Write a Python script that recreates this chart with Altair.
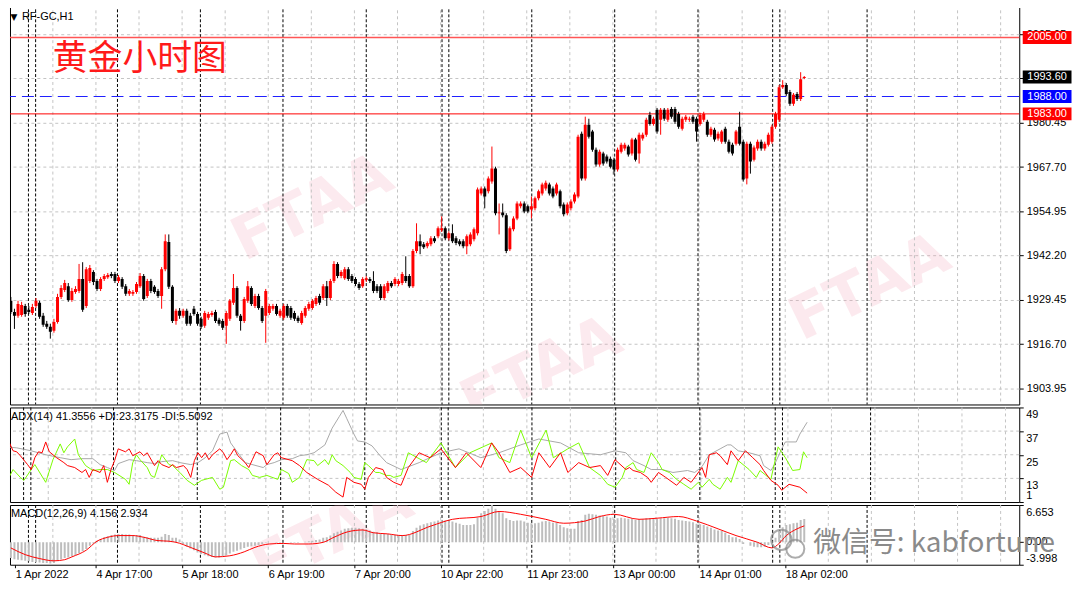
import altair as alt
import pandas as pd

FONT = "Liberation Sans"
W = 1014
H_MAIN, H_ADX, H_MACD = 402, 95, 60

# ---------------- price data (H1 candles) ----------------
opens = [1929.2, 1926.0, 1924.9, 1925.1, 1927.7, 1926.6, 1925.7, 1927.7, 1928.6, 1924.9,
         1922.6, 1921.7, 1920.6, 1923.1, 1930.3, 1932.3, 1933.4, 1929.4, 1931.7, 1932.0,
         1935.5, 1927.7, 1934.9, 1937.5, 1934.9, 1932.6, 1935.5, 1936.0, 1936.9, 1936.9,
         1934.9, 1935.5, 1933.4, 1931.2, 1931.2, 1931.7, 1933.4, 1936.3, 1930.6, 1934.9,
         1933.2, 1932.0, 1930.6, 1938.3, 1946.1, 1933.2, 1923.4, 1926.3, 1924.9, 1926.3,
         1924.9, 1926.9, 1925.4, 1924.0, 1922.0, 1924.3, 1925.1, 1926.0, 1923.7, 1923.4,
         1922.0, 1924.0, 1928.6, 1932.9, 1924.9, 1923.4, 1929.2, 1932.9, 1927.7, 1930.6,
         1927.1, 1924.9, 1925.7, 1926.9, 1927.7, 1924.9, 1924.3, 1927.7, 1927.1, 1925.7,
         1924.3, 1922.8, 1924.9, 1926.9, 1927.1, 1928.3, 1930.6, 1930.0, 1933.4, 1930.0,
         1934.9, 1939.8, 1936.3, 1935.7, 1938.3, 1936.3, 1935.5, 1934.0, 1933.4, 1935.2,
         1935.5, 1934.9, 1933.4, 1933.4, 1930.0, 1932.0, 1934.3, 1934.0, 1934.0, 1934.3,
         1936.3, 1936.3, 1933.4, 1943.5, 1946.3, 1945.5, 1944.9, 1945.5, 1947.2, 1947.8,
         1949.5, 1950.1, 1947.2, 1948.6, 1947.2, 1946.3, 1946.3, 1944.9, 1945.5, 1946.9,
         1948.6, 1960.1, 1961.5, 1960.7, 1963.5, 1967.3, 1954.4, 1954.6, 1953.8, 1944.0,
         1949.8, 1952.9, 1956.4, 1957.2, 1956.4, 1955.5, 1955.8, 1958.7, 1960.1, 1961.5,
         1962.7, 1961.5, 1960.1, 1960.7, 1956.9, 1954.4, 1955.8, 1957.8, 1959.2, 1977.3,
         1964.4, 1979.9, 1977.9, 1972.7, 1968.4, 1971.6, 1970.7, 1970.1, 1969.8, 1967.0,
         1972.1, 1973.0, 1973.6, 1971.6, 1975.6, 1971.6, 1975.9, 1977.0, 1982.7, 1980.1,
         1984.2, 1981.3, 1984.2, 1981.3, 1984.4, 1984.4, 1983.0, 1978.7, 1981.3, 1981.3,
         1982.2, 1981.6, 1980.1, 1981.3, 1980.7, 1977.0, 1978.4, 1975.9, 1975.0, 1978.7,
         1975.0, 1974.1, 1974.4, 1979.3, 1975.0, 1964.4, 1974.4, 1969.8, 1973.0, 1975.0,
         1973.0, 1974.1, 1975.0, 1979.3, 1981.3, 1990.7, 1991.3, 1989.3, 1985.9, 1988.7,
         1987.3, 1993.3]
highs = [1930.3, 1926.9, 1929.2, 1928.9, 1928.3, 1927.7, 1928.3, 1930.0, 1929.2, 1925.7,
         1923.4, 1922.6, 1924.0, 1931.2, 1933.7, 1935.2, 1934.3, 1932.9, 1933.4, 1939.8,
         1940.3, 1938.9, 1939.5, 1938.0, 1935.5, 1936.0, 1936.9, 1937.2, 1937.5, 1937.5,
         1936.6, 1936.0, 1934.0, 1932.6, 1932.3, 1934.6, 1937.2, 1936.9, 1935.5, 1935.5,
         1933.7, 1932.6, 1938.9, 1948.3, 1948.3, 1933.7, 1926.9, 1927.1, 1926.9, 1926.9,
         1925.7, 1927.7, 1926.0, 1924.6, 1926.3, 1926.0, 1926.3, 1926.6, 1924.3, 1924.0,
         1926.3, 1929.7, 1936.9, 1933.4, 1925.4, 1930.3, 1934.9, 1933.4, 1931.2, 1931.2,
         1927.7, 1932.6, 1928.3, 1928.3, 1928.3, 1926.9, 1928.3, 1928.3, 1927.7, 1926.3,
         1924.9, 1926.3, 1927.7, 1928.9, 1929.7, 1930.6, 1931.2, 1934.0, 1934.9, 1935.5,
         1940.6, 1940.3, 1938.0, 1938.9, 1938.9, 1936.9, 1936.0, 1934.6, 1936.0, 1936.3,
         1936.0, 1937.7, 1934.0, 1934.0, 1934.0, 1934.9, 1934.9, 1936.0, 1935.5, 1937.5,
         1942.0, 1936.9, 1944.1, 1951.5, 1948.3, 1946.1, 1946.3, 1947.8, 1947.8, 1950.6,
         1953.5, 1950.6, 1949.2, 1951.2, 1947.8, 1946.9, 1946.9, 1948.3, 1948.9, 1950.3,
         1961.8, 1962.1, 1962.1, 1965.0, 1973.6, 1967.8, 1957.2, 1957.2, 1954.4, 1950.6,
         1953.5, 1957.8, 1957.8, 1957.8, 1956.9, 1959.2, 1959.2, 1961.2, 1963.2, 1963.8,
         1963.2, 1962.1, 1963.2, 1961.2, 1957.5, 1957.5, 1958.4, 1960.4, 1977.0, 1977.9,
         1982.2, 1981.6, 1978.4, 1973.3, 1972.7, 1972.1, 1971.3, 1970.7, 1970.4, 1973.3,
         1974.7, 1974.7, 1974.1, 1976.1, 1976.1, 1977.6, 1977.6, 1981.9, 1983.6, 1982.2,
         1984.7, 1984.7, 1984.7, 1984.7, 1985.0, 1985.0, 1983.6, 1982.2, 1982.7, 1982.2,
         1982.7, 1982.2, 1983.3, 1983.6, 1981.3, 1979.3, 1979.0, 1977.9, 1978.4, 1979.3,
         1975.6, 1974.7, 1978.4, 1983.6, 1975.6, 1975.0, 1975.0, 1973.9, 1975.6, 1975.6,
         1975.0, 1977.6, 1979.9, 1983.6, 1991.3, 1992.7, 1991.9, 1989.9, 1989.0, 1989.3,
         1995.0, 1993.9]
lows = [1925.4, 1921.1, 1924.3, 1924.6, 1924.6, 1925.4, 1925.1, 1927.1, 1924.0, 1921.7,
        1921.1, 1918.3, 1920.0, 1922.6, 1929.7, 1931.7, 1928.9, 1928.9, 1931.2, 1931.4,
        1926.0, 1927.1, 1934.3, 1933.7, 1932.0, 1932.0, 1934.9, 1935.5, 1935.7, 1934.3,
        1934.3, 1932.6, 1930.6, 1930.6, 1930.6, 1931.2, 1932.9, 1929.2, 1930.0, 1931.4,
        1931.2, 1930.0, 1926.9, 1937.7, 1932.6, 1922.8, 1922.3, 1924.0, 1924.3, 1922.0,
        1922.0, 1924.9, 1922.0, 1921.1, 1921.4, 1923.7, 1924.6, 1922.8, 1922.0, 1920.8,
        1916.8, 1923.4, 1928.0, 1924.3, 1920.6, 1922.8, 1928.6, 1927.7, 1927.1, 1926.6,
        1922.8, 1917.1, 1925.1, 1926.3, 1924.9, 1924.3, 1923.7, 1924.3, 1923.7, 1923.4,
        1922.8, 1922.3, 1924.3, 1926.3, 1926.6, 1927.7, 1928.0, 1929.4, 1927.7, 1929.4,
        1934.3, 1935.7, 1935.7, 1935.2, 1934.9, 1934.3, 1933.4, 1932.3, 1932.9, 1934.6,
        1934.3, 1931.4, 1931.4, 1929.4, 1929.4, 1931.4, 1932.9, 1933.4, 1933.4, 1933.7,
        1934.3, 1932.9, 1932.9, 1942.9, 1942.6, 1944.1, 1944.3, 1944.9, 1945.8, 1947.2,
        1949.0, 1946.6, 1946.6, 1945.8, 1945.2, 1944.9, 1944.3, 1942.6, 1944.9, 1946.3,
        1948.0, 1959.5, 1955.8, 1960.1, 1962.9, 1953.8, 1948.3, 1953.2, 1942.9, 1943.5,
        1949.2, 1952.4, 1955.8, 1954.4, 1954.4, 1952.9, 1955.2, 1958.1, 1959.5, 1960.9,
        1959.5, 1958.7, 1959.5, 1955.8, 1953.5, 1953.8, 1955.2, 1957.2, 1958.7, 1963.8,
        1963.8, 1975.9, 1972.1, 1967.8, 1967.8, 1968.1, 1968.7, 1967.3, 1965.5, 1966.4,
        1971.6, 1972.4, 1970.7, 1971.0, 1969.3, 1968.7, 1975.3, 1976.4, 1979.6, 1979.6,
        1977.3, 1977.0, 1981.0, 1980.7, 1981.6, 1980.1, 1978.7, 1978.2, 1980.7, 1980.7,
        1980.1, 1975.0, 1979.6, 1980.7, 1976.4, 1976.4, 1975.0, 1975.3, 1974.4, 1974.4,
        1971.6, 1971.0, 1973.9, 1973.9, 1963.5, 1962.7, 1965.8, 1969.3, 1972.4, 1972.4,
        1972.4, 1973.6, 1974.4, 1978.7, 1980.7, 1990.2, 1988.2, 1985.3, 1985.3, 1986.7,
        1986.7, 1993.0]
closes = [1926.0, 1924.9, 1928.3, 1928.0, 1925.4, 1926.0, 1927.4, 1929.2, 1924.6, 1922.3,
          1921.7, 1920.3, 1923.1, 1930.3, 1932.9, 1934.3, 1929.4, 1932.0, 1932.6, 1935.5,
          1926.6, 1938.3, 1938.6, 1934.6, 1932.6, 1935.5, 1936.3, 1936.6, 1936.3, 1934.9,
          1936.0, 1933.2, 1931.2, 1932.0, 1931.7, 1934.0, 1936.3, 1929.7, 1934.9, 1932.0,
          1931.7, 1930.6, 1938.3, 1946.3, 1933.2, 1923.4, 1926.3, 1924.9, 1926.3, 1922.6,
          1922.6, 1925.4, 1922.6, 1921.7, 1925.7, 1925.4, 1925.7, 1923.4, 1922.6, 1921.4,
          1925.7, 1929.2, 1932.9, 1924.9, 1923.4, 1929.7, 1933.4, 1928.3, 1930.6, 1927.1,
          1923.4, 1932.0, 1927.7, 1927.7, 1925.4, 1926.3, 1927.7, 1924.9, 1924.3, 1924.0,
          1923.4, 1925.7, 1927.1, 1928.3, 1929.2, 1930.0, 1928.6, 1933.4, 1930.0, 1934.9,
          1939.8, 1936.3, 1937.5, 1938.3, 1935.5, 1934.9, 1934.0, 1932.9, 1935.5, 1935.7,
          1934.9, 1932.0, 1932.0, 1930.0, 1933.4, 1934.3, 1933.4, 1935.5, 1934.9, 1936.9,
          1934.9, 1933.4, 1943.5, 1946.3, 1944.9, 1944.6, 1945.8, 1947.2, 1946.3, 1950.1,
          1950.1, 1947.2, 1948.6, 1946.3, 1945.8, 1945.5, 1944.9, 1947.8, 1948.3, 1949.8,
          1961.2, 1961.5, 1959.2, 1964.4, 1967.3, 1954.4, 1954.6, 1953.8, 1943.5, 1950.1,
          1952.9, 1957.2, 1957.2, 1954.9, 1954.9, 1956.4, 1958.7, 1960.7, 1962.7, 1963.2,
          1960.1, 1959.2, 1962.7, 1956.4, 1954.1, 1956.9, 1957.8, 1959.8, 1976.4, 1964.4,
          1979.9, 1976.4, 1972.7, 1968.4, 1972.1, 1968.7, 1969.3, 1967.8, 1967.0, 1972.7,
          1974.1, 1974.1, 1971.3, 1975.6, 1969.8, 1977.0, 1977.0, 1981.3, 1980.1, 1981.6,
          1977.9, 1984.2, 1981.6, 1984.2, 1982.2, 1980.7, 1979.3, 1981.6, 1982.2, 1981.6,
          1980.7, 1977.9, 1982.7, 1983.0, 1977.0, 1978.7, 1975.6, 1977.3, 1977.9, 1975.0,
          1972.1, 1971.6, 1977.9, 1974.4, 1964.1, 1974.4, 1969.3, 1973.3, 1975.0, 1973.0,
          1974.4, 1977.0, 1979.3, 1983.0, 1990.7, 1991.3, 1988.7, 1985.9, 1988.5, 1987.3,
          1993.0, 1993.6]

# ---------------- ADX(14) ----------------
adx_bars = [0, 3, 7, 11, 15, 18, 21, 24, 26, 28, 30, 31, 34, 36, 39, 41, 43, 46, 48, 51,
            53, 55, 57, 59, 61, 62, 64, 66, 69, 71, 72, 74, 76, 79, 81, 83, 85, 88, 90, 92,
            93, 94, 96, 97, 99, 101, 103, 105, 109, 114, 120, 125, 131, 136, 142, 147, 153, 158,
            164, 168, 171, 173, 176, 178, 181, 184, 188, 190, 192, 194, 197, 199, 200, 202, 205,
            208, 209, 211, 212, 214, 215, 218, 219, 221]
adx_vals = [29, 28.5, 27, 25, 23.5, 22.5, 23, 23, 20, 18.5, 17, 20.5, 22.5, 22, 21, 20.5, 21.5, 22, 21, 20,
            21, 23.5, 27, 35.5, 36.5, 31, 26, 21, 19.5, 18.5, 20, 21, 22.5, 23, 24.5, 25, 26, 30, 38.5, 44.5,
            47.5, 43.5, 35.5, 32, 31.5, 29.5, 25, 21, 17.5, 21, 26, 28, 23.5, 26, 30, 33, 31, 26,
            25, 27, 26, 22, 19.5, 17.5, 17.5, 16, 17, 16, 19, 25, 28, 30, 30, 27, 26,
            24.5, 19.5, 17, 20, 28, 31.5, 31.5, 35.5, 41.5]
pdi_bars = [0, 2, 4, 5, 7, 8, 11, 13, 15, 16, 17, 19, 20, 22, 24, 26, 28, 30, 33, 34,
            35, 36, 37, 39, 40, 41, 43, 45, 46, 48, 50, 52, 54, 57, 59, 60, 62, 63, 65, 67,
            68, 70, 72, 75, 76, 78, 79, 81, 83, 85, 86, 88, 89, 90, 91, 93, 95, 96, 98, 99,
            100, 102, 103, 105, 106, 107, 109, 111, 116, 120, 124, 128, 134, 136, 139, 142, 145,
            149, 151, 155, 158, 161, 164, 166, 168, 170, 171, 173, 174, 176, 178, 180,
            181, 183, 185, 187, 189, 191, 192, 194, 195, 197, 199, 200, 202, 205, 207, 208, 211,
            213, 215, 217, 219, 220, 221]
pdi_vals = [10.5, 17.5, 13.5, 12, 17.5, 20, 11, 22.5, 30.5, 26, 29, 33, 25, 19.5, 17, 17.5, 17.5, 16, 12.5, 10,
            21, 25, 22.5, 18.5, 14.5, 13.5, 25, 20, 19.5, 16, 12, 9.5, 12, 13.5, 7.5, 8.5, 22, 22.5, 19.5, 17.5,
            14.5, 13.5, 14.5, 12.5, 17.5, 15.5, 11, 13.5, 22.5, 22, 19.5, 22.5, 20, 25, 22, 19.5, 16, 13.5, 12.5, 21,
            19.5, 16, 16, 14.5, 14.5, 13.5, 14.5, 26, 21, 31, 18.5, 26, 31, 23.5, 21, 37.5, 23.5,
            37.5, 23.5, 28, 31, 18.5, 14.5, 10, 8.5, 13.5, 18.5, 21, 17.5, 16, 26, 21,
            17.5, 16, 12.5, 10, 7.5, 11, 8.5, 12.5, 10, 7.5, 13.5, 11, 22, 17.5, 13.5, 17, 12.5,
            29, 23.5, 17, 17.5, 26.5, 23.5]
mdi_bars = [0, 1, 2, 3, 4, 6, 7, 8, 9, 10, 11, 12, 14, 16, 17, 19, 21, 22, 23, 24,
            26, 27, 28, 29, 30, 31, 33, 34, 35, 37, 38, 39, 41, 42, 43, 45, 46, 47, 49, 50,
            51, 52, 53, 54, 55, 56, 57, 59, 60, 61, 62, 63, 64, 66, 67, 68, 69, 71, 72, 74,
            75, 76, 79, 81, 83, 86, 89, 91, 93, 94, 96, 98, 99, 100, 102, 104, 105, 107, 109,
            111, 114, 117, 120, 124, 127, 131, 134, 136, 139, 142, 145, 147, 150, 153, 155, 158, 161,
            164, 166, 168, 171, 172, 173, 175, 177, 178, 180, 182, 185, 187, 189, 192, 193, 194, 196, 197, 199,
            200, 202, 204, 206, 208, 209, 211, 213, 214, 216, 219, 221]
mdi_vals = [22.5, 31, 27, 26.5, 24.5, 20, 17.5, 23.5, 26.5, 26, 31.5, 26.5, 23.5, 21, 19.5, 18.5, 16, 17.5, 13.5, 17.5,
            16, 19.5, 11, 17.5, 22, 28, 26.5, 28, 24.5, 26.5, 24.5, 26, 19.5, 22, 20, 18.5, 20, 18.5, 19.5, 17.5,
            13.5, 22, 26, 23.5, 26, 22.5, 25, 28, 26, 22.5, 25, 28, 24.5, 21, 18.5, 22.5, 26.5, 24.5, 20, 25,
            26, 23.5, 22, 19.5, 16, 12.5, 9.5, 6, 3.5, 13.5, 11, 10, 7.5, 13.5, 18.5, 17.5, 13.5, 11, 9.5,
            18.5, 26, 23.5, 28, 18.5, 26, 18.5, 31, 26, 16, 18.5, 13.5, 26, 18.5, 26, 16, 21, 18.5,
            19.5, 14.5, 22.5, 17.5, 18.5, 17, 16, 13.5, 11, 16, 13.5, 9.5, 13.5, 11, 18.5, 13.5, 25, 26, 24.5, 20,
            27, 22, 27, 23.5, 20, 17, 12, 9.5, 7, 10, 8.5, 5.5]

# ---------------- MACD(12,26,9) ----------------
macd_main = [-2.8, -3.0, -3.1, -3.2, -3.3, -3.4, -3.5, -3.5, -3.6, -3.7,
             -3.7, -3.8, -3.7, -3.3, -3.0, -2.8, -2.7, -2.5, -2.3, -1.9,
             -1.6, -1.2, -0.6, -0.2, 0.3, 0.6, 0.9, 1.1, 1.3, 1.4,
             1.5, 1.5, 1.4, 1.4, 1.3, 1.3, 1.3, 1.0, 0.9, 0.8,
             0.8, 0.8, 1.0, 1.5, 1.3, 0.8, 0.8, 0.5, -0.3, -0.8,
             -1.1, -1.4, -1.8, -2.1, -2.3, -2.5, -2.6, -2.7, -2.7, -2.5,
             -2.3, -2.0, -1.7, -1.5, -1.3, -1.0, -0.8, -0.7, -0.6, -0.5,
             -0.3, -0.1, 0.0, 0.0, -0.1, -0.1, 0.0, 0.0, -0.1, -0.1,
             -0.1, 0.0, 0.1, 0.2, 0.3, 0.4, 0.5, 0.8, 0.9, 1.2,
             1.6, 1.9, 2.1, 2.4, 2.5, 2.6, 2.6, 2.5, 2.4, 2.3,
             2.1, 1.9, 1.8, 1.6, 1.5, 1.5, 1.4, 1.3, 1.3, 1.3,
             1.3, 1.3, 2.0, 2.6, 3.0, 3.2, 3.4, 3.6, 3.7, 3.9,
             4.0, 3.9, 3.9, 3.7, 3.5, 3.3, 3.1, 3.1, 3.1, 3.2,
             4.4, 5.2, 5.6, 6.0, 6.65, 6.0, 5.6, 5.2, 4.3, 4.0,
             3.8, 3.9, 3.9, 3.7, 3.5, 3.4, 3.4, 3.5, 3.7, 3.8,
             3.7, 3.5, 3.5, 3.1, 2.7, 2.5, 2.4, 2.4, 3.8, 4.0,
             4.9, 5.1, 5.0, 4.9, 4.8, 4.7, 4.6, 4.4, 4.2, 4.3,
             4.4, 4.3, 4.2, 4.2, 4.0, 4.1, 4.1, 4.3, 4.3, 4.3,
             4.2, 4.3, 4.3, 4.4, 4.3, 4.2, 4.0, 3.9, 3.8, 3.7,
             3.6, 3.3, 3.2, 3.1, 2.8, 2.6, 2.3, 2.1, 2.0, 1.7,
             1.3, 0.9, 0.9, 0.6, -0.3, 0.0, -0.6, -0.8, -0.9, -0.9,
             -0.8, -0.5, 0.1, 0.8, 2.0, 2.7, 3.1, 3.2, 3.4, 3.5,
             4.0, 4.156]
sig_bars = [0, 4, 8, 12, 15, 17, 21, 24, 27, 30, 34, 37, 41, 44, 46, 50, 54, 57, 61, 65,
            68, 72, 76, 79, 83, 87, 90, 94, 98, 101, 105, 109, 117, 123, 131, 136, 142, 149, 154, 160,
            164, 168, 175, 180, 186, 191, 197, 202, 208, 212, 214, 216, 219, 221]
sig_vals = [-1.0, -2.2, -2.9, -3.3, -3.1, -2.6, -1.4, 0.2, 0.9, 1.2, 1.2, 0.9, 0.3, 0.2, 0.0, -0.9, -1.9, -2.6, -2.4, -1.7,
            -0.9, -0.3, -0.2, -0.3, -0.3, 0.0, 0.9, 1.9, 2.2, 1.7, 1.5, 1.2, 2.9, 4.1, 4.6, 5.5, 5.0, 4.1, 3.4, 3.8,
            4.6, 5.0, 4.1, 4.3, 4.6, 3.8, 2.4, 1.2, 0.0, -1.0, -0.2, 1.2, 2.4, 2.934]

# ---------------- axes / annotations ----------------
price_ticks = [1903.95, 1916.70, 1929.45, 1942.20, 1954.95, 1967.70, 1980.45, 1993.20, 2005.95]
box_prices = [2005.00, 1993.60, 1988.00, 1983.00]
box_texts = ["2005.00", "1993.60", "1988.00", "1983.00"]
box_colors = ["#FF0000", "#000000", "#0000FF", "#FF0000"]
time_labels = ["1 Apr 2022", "4 Apr 17:00", "5 Apr 18:00", "6 Apr 19:00", "7 Apr 20:00",
               "10 Apr 22:00", "11 Apr 23:00", "13 Apr 00:00", "14 Apr 01:00", "18 Apr 02:00"]
time_label_bars = [1.2, 23.7, 47.7, 71.7, 95.7, 119.7, 143.7, 167.7, 191.7, 215.7]
grid_bars = [11.7, 23.7, 35.7, 47.7, 59.7, 71.7, 83.7, 95.7, 107.7, 119.7, 131.7, 143.7,
             155.7, 167.7, 179.7, 191.7, 203.7, 215.7, 227.7, 239.7, 251.7, 263.7, 275.7]
sep_bars = [4.9, 6.9, 29.7, 52.8, 75.8, 99.0, 120.1, 122.0, 145.1, 168.2, 191.4, 212.2, 214.2, 238.5]

X_DOMAIN = [1.147, 279.5]
xs = alt.Scale(domain=X_DOMAIN, nice=False, zero=False)
ys_main = alt.Scale(domain=[1899.34, 2014.53], nice=False, zero=False)
ys_adx = alt.Scale(domain=[1, 49], nice=False, zero=False)
ys_macd = alt.Scale(domain=[-3.998, 6.653], nice=False, zero=False)

main_axis = alt.Axis(orient="right", values=price_ticks, format=".2f", grid=True,
                     gridDash=[3, 3], gridColor="#C4C4C4", tickSize=4, tickColor="black",
                     domain=False, labelFont=FONT, labelFontSize=11, labelColor="black",
                     labelPadding=3, title=None)
adx_axis = alt.Axis(orient="right", values=[1, 13, 25, 37, 49], labels=False, grid=False,
                    tickSize=4, tickColor="black", domain=False, title=None)
macd_axis = alt.Axis(orient="right", values=[-3.998, 0, 6.653], labels=False, grid=False,
                     tickSize=4, tickColor="black", domain=False, title=None)
time_axis = alt.Axis(orient="bottom", values=time_label_bars, grid=False, tickSize=3, tickColor="black",
                     domain=False, labelAlign="left", labelFont=FONT, labelFontSize=11, labelColor="black",
                     labelPadding=1, labelOverlap=False, title=None,
                     labelExpr="[" + ",".join("'" + t + "'" for t in time_labels) + "][round((datum.value + 0.3) / 24)]")


def XB(field):
    return alt.X(field, type="quantitative", scale=xs, axis=None)


def XT(field):
    return alt.X(field, type="quantitative", scale=xs, axis=time_axis)


def YM(field):
    return alt.Y(field, type="quantitative", scale=ys_main, axis=main_axis)


def YA(field):
    return alt.Y(field, type="quantitative", scale=ys_adx, axis=adx_axis)


def YC(field):
    return alt.Y(field, type="quantitative", scale=ys_macd, axis=macd_axis)


grid_df = pd.DataFrame({"b": grid_bars})
sep_df = pd.DataFrame({"b": sep_bars})


def vgrid(xf):
    return alt.Chart(grid_df).mark_rule(color="#C4C4C4", strokeDash=[3, 3], strokeWidth=1).encode(x=xf("b"))


def seps(xf):
    return alt.Chart(sep_df).mark_rule(color="#000000", strokeDash=[3, 2], strokeWidth=1).encode(x=xf("b"))


def watermark(px, py):
    df = pd.DataFrame({"t": ["FTAA"] * len(px), "px": px, "py": py})
    return alt.Chart(df).mark_text(angle=334, font="DejaVu Sans", fontSize=60, fontWeight="bold",
                                   color="#F2A0B4", opacity=0.22, clip=True).encode(
        x=alt.X("px:Q", scale=None), y=alt.Y("py:Q", scale=None), text="t:N")


# ---------------- main panel ----------------
cand = pd.DataFrame({"bar": list(range(len(closes))), "open": opens, "high": highs,
                     "low": lows, "close": closes})
cand["dir"] = ["up" if c >= o else "down" for o, c in zip(opens, closes)]
ccolor = alt.Color("dir:N", scale=alt.Scale(domain=["up", "down"], range=["#FF0000", "#000000"]), legend=None)

hgrid_main = alt.Chart(pd.DataFrame({"p": price_ticks})).mark_rule(opacity=0).encode(y=YM("p"))

lvl_2005 = alt.Chart(pd.DataFrame({"p": [2005.00]})).mark_rule(color="#FF5555", strokeWidth=1.5).encode(y=YM("p"))
lvl_1983 = alt.Chart(pd.DataFrame({"p": [1983.00]})).mark_rule(color="#FF0000", strokeWidth=1).encode(y=YM("p"))
lvl_1988 = alt.Chart(pd.DataFrame({"p": [1988.00]})).mark_rule(color="#1E1EFF", strokeWidth=1,
                                                             strokeDash=[12, 6]).encode(y=YM("p"))

wicks = alt.Chart(cand).mark_rule(strokeWidth=1, clip=True).encode(x=XB("bar"), y=YM("low"), y2="high", color=ccolor)
bodies = alt.Chart(cand).mark_bar(size=3, clip=True).encode(x=XB("bar"), y=YM("open"), y2="close", color=ccolor)

boxes_df = pd.DataFrame({"p": box_prices, "t": box_texts, "c": box_colors})
boxes = alt.Chart(boxes_df).mark_tick(orient="horizontal", size=49, thickness=13, opacity=1).encode(
    y=YM("p"), x=alt.value(W + 28), color=alt.Color("c:N", scale=None))
box_txt = alt.Chart(boxes_df).mark_text(font=FONT, fontSize=11, color="white", align="center",
                                        baseline="middle").encode(y=YM("p"), x=alt.value(W + 28), text="t:N")

sym_txt = alt.Chart(pd.DataFrame({"t": ["RF-GC,H1"]})).mark_text(font=FONT, fontSize=11, color="black",
                                                               align="left", baseline="middle").encode(
    x=alt.value(12), y=alt.value(13), text="t:N")
tri_txt = alt.Chart(pd.DataFrame({"t": ["▼"]})).mark_text(font="DejaVu Sans", fontSize=9, color="black",
                                                          align="center", baseline="middle").encode(
    x=alt.value(4), y=alt.value(13), text="t:N")
cn_txt = alt.Chart(pd.DataFrame({"t": ["黄金小时图"]})).mark_text(font="Noto Sans CJK SC", fontSize=35,
                                                               color="#FF1A1A", align="left",
                                                               baseline="middle").encode(
    x=alt.value(43), y=alt.value(55), text="t:N")

main = alt.layer(watermark([304, 534, 864], [205, 368, 285]),
                 vgrid(XB), hgrid_main, seps(XB), lvl_2005, lvl_1983, lvl_1988,
                 wicks, bodies, boxes, box_txt, sym_txt, tri_txt, cn_txt).properties(width=W, height=H_MAIN)

# ---------------- ADX panel ----------------
adx_df = pd.DataFrame({"b": adx_bars, "v": adx_vals})
pdi_df = pd.DataFrame({"b": pdi_bars, "v": pdi_vals})
mdi_df = pd.DataFrame({"b": mdi_bars, "v": mdi_vals})

adx_hgrid = alt.Chart(pd.DataFrame({"v": [13, 25, 37]})).mark_rule(color="#C4C4C4", strokeDash=[3, 3]).encode(y=YA("v"))
adx_line = alt.Chart(adx_df).mark_line(color="#A8A8A8", strokeWidth=1, clip=True).encode(x=XB("b"), y=YA("v"))
pdi_line = alt.Chart(pdi_df).mark_line(color="#7CFC00", strokeWidth=1, clip=True).encode(x=XB("b"), y=YA("v"))
mdi_line = alt.Chart(mdi_df).mark_line(color="#FF0000", strokeWidth=1, clip=True).encode(x=XB("b"), y=YA("v"))
adx_lab_top = alt.Chart(pd.DataFrame({"v": [49, 37, 25, 13], "t": ["49", "37", "25", "13"]})).mark_text(
    font=FONT, fontSize=11, align="left", baseline="top", dy=2, color="black").encode(
    x=alt.value(W + 7), y=YA("v"), text="t:N")
adx_lab_bot = alt.Chart(pd.DataFrame({"v": [1], "t": ["1"]})).mark_text(
    font=FONT, fontSize=11, align="left", baseline="bottom", dy=-1, color="black").encode(
    x=alt.value(W + 7), y=YA("v"), text="t:N")
adx_title = alt.Chart(pd.DataFrame({"t": ["ADX(14) 41.3556 +DI:23.3175 -DI:5.5092"]})).mark_text(
    font=FONT, fontSize=11, align="left", baseline="middle", color="black").encode(
    x=alt.value(1), y=alt.value(10), text="t:N")

adx_panel = alt.layer(vgrid(XB), adx_hgrid, seps(XB), adx_line, pdi_line, mdi_line,
                      adx_lab_top, adx_lab_bot, adx_title).properties(width=W, height=H_ADX)

# ---------------- MACD panel ----------------
macd_df = pd.DataFrame({"b": list(range(len(macd_main))), "v": macd_main, "z": [0.0] * len(macd_main)})
sig_df = pd.DataFrame({"b": sig_bars, "v": sig_vals})

hist = alt.Chart(macd_df).mark_bar(size=2, color="#BDBDBD", clip=True).encode(x=XT("b"), y=YC("v"), y2="z")
sig_line = alt.Chart(sig_df).mark_line(color="#FF0000", strokeWidth=1, interpolate="monotone", clip=True).encode(
    x=XT("b"), y=YC("v"))
macd_lab = [
    alt.Chart(pd.DataFrame({"v": [6.653], "t": ["6.653"]})).mark_text(
        font=FONT, fontSize=11, align="left", baseline="top", dy=2, color="black").encode(
        x=alt.value(W + 7), y=YC("v"), text="t:N"),
    alt.Chart(pd.DataFrame({"v": [0.0], "t": ["0.00"]})).mark_text(
        font=FONT, fontSize=11, align="left", baseline="middle", color="black").encode(
        x=alt.value(W + 7), y=YC("v"), text="t:N"),
    alt.Chart(pd.DataFrame({"v": [-3.998], "t": ["-3.998"]})).mark_text(
        font=FONT, fontSize=11, align="left", baseline="bottom", dy=-1, color="black").encode(
        x=alt.value(W + 7), y=YC("v"), text="t:N"),
]
macd_title = alt.Chart(pd.DataFrame({"t": ["MACD(12,26,9) 4.156 2.934"]})).mark_text(
    font=FONT, fontSize=11, align="left", baseline="middle", color="black").encode(
    x=alt.value(1), y=alt.value(9), text="t:N")
wechat = alt.Chart(pd.DataFrame({"t": ["微信号: kabfortune"]})).mark_text(
    font="Noto Sans CJK SC", fontSize=28, align="left", baseline="middle", color="#8A8A8A").encode(
    x=alt.value(807), y=alt.value(39), text="t:N")
icon = alt.Chart(pd.DataFrame({"px": [775, 789], "py": [35, 44], "s": [420, 330]})).mark_point(
    shape="circle", filled=False, color="#8A8A8A", strokeWidth=2).encode(
    x=alt.X("px:Q", scale=None), y=alt.Y("py:Q", scale=None), size=alt.Size("s:Q", scale=None))

macd_panel = alt.layer(watermark([324], [30]), vgrid(XT), seps(XT), hist, sig_line, *macd_lab, macd_title,
                       icon, wechat).properties(width=W, height=H_MACD)

chart = alt.vconcat(main, adx_panel, macd_panel, spacing=3, bounds="flush").properties(
    padding={"left": 0, "top": -6, "right": 0, "bottom": -2}, background="white"
).configure_view(stroke="#000000", strokeWidth=1)

chart.save("out.html", embed_options={"renderer": "svg", "actions": False})
